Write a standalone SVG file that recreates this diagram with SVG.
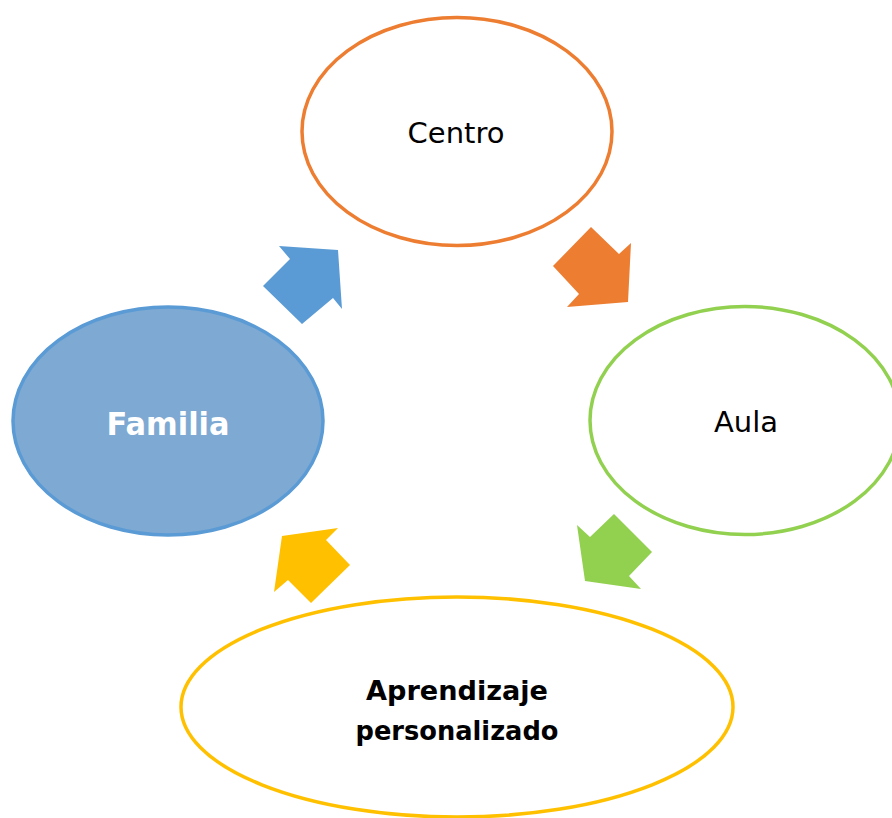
<svg xmlns="http://www.w3.org/2000/svg" width="892" height="818" viewBox="0 0 892 818">
<style>
  .lbl { font-family: "Comic Sans MS", "DejaVu Sans", sans-serif; font-size: 29px; fill: #000; text-anchor: middle; }
  .bold { font-weight: bold; }
  .node { stroke-width: 3.5; }
</style>
<rect width="892" height="818" fill="#fff"/>
<g id="connectors">
  <polygon fill="#5B9BD5" points="279,246 338,250 342,309 333,298 302,324 263,286 290,259"/>
  <polygon fill="#ED7D31" points="591,227 619,254 631,243 628,302 567,307 579,294 553,266"/>
  <polygon fill="#92D050" points="577,525 590,537 614,514 652,552 629,576 641,589 585,581"/>
  <polygon fill="#FFC000" points="282,536 338,528 326,540 350,565 311,603 288,580 274,592"/>
</g>
<g id="centro">
  <ellipse class="node" cx="457" cy="131.5" rx="155" ry="114" fill="#fff" stroke="#ED7D31"/>
  <text class="lbl" x="456" y="143">Centro</text>
</g>
<g id="aula">
  <ellipse class="node" cx="745" cy="420.5" rx="155" ry="114" fill="#fff" stroke="#92D050"/>
  <text class="lbl" x="746" y="432">Aula</text>
</g>
<g id="familia">
  <ellipse class="node" cx="168" cy="421" rx="155" ry="114" fill="#7EA9D2" stroke="#5B9BD5"/>
  <text class="lbl bold" x="168" y="435" style="font-size:32px;fill:#fff" textLength="123" lengthAdjust="spacingAndGlyphs">Familia</text>
</g>
<g id="aprendizaje">
  <ellipse class="node" cx="457" cy="707" rx="276" ry="110" fill="#fff" stroke="#FFC000"/>
  <text class="lbl bold" x="457" y="700" style="font-size:27px" textLength="182" lengthAdjust="spacingAndGlyphs">Aprendizaje</text>
  <text class="lbl bold" x="457" y="740" style="font-size:27px" textLength="203" lengthAdjust="spacingAndGlyphs">personalizado</text>
</g>
</svg>
